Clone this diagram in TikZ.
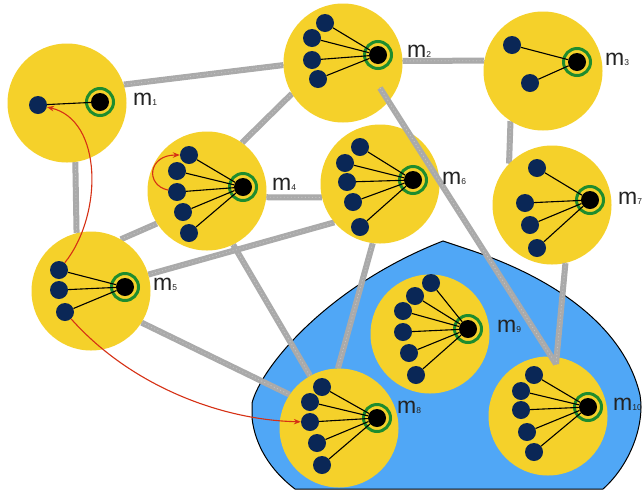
\documentclass[tikz,border=0pt]{standalone}
\usepackage{fontspec}
\setmainfont{Liberation Sans}
\usetikzlibrary{arrows.meta, decorations.pathmorphing}

\definecolor{cyel}{RGB}{245,209,42}
\definecolor{cblue}{RGB}{80,167,246}
\definecolor{cnavy}{RGB}{10,39,86}
\definecolor{cgreen}{RGB}{30,140,46}
\definecolor{cgray}{RGB}{170,170,170}
\definecolor{cgraylt}{RGB}{196,196,196}
\definecolor{cred}{RGB}{214,48,20}
\definecolor{ctext}{RGB}{35,35,35}

\pgfdeclarelayer{base}
\pgfdeclarelayer{links}
\pgfsetlayers{base,links,main}

\tikzset{
  cell/.style={circle, fill=cyel, minimum size=119pt, inner sep=0pt},
  hub/.style={circle, fill=black, minimum size=18pt, inner sep=0pt},
  ring/.style={circle, draw=cgreen, line width=3pt, minimum size=27pt, inner sep=0pt},
  leaf/.style={circle, fill=cnavy, minimum size=18pt, inner sep=0pt},
  spoke/.style={black, line width=1.1pt},
  % chalk-like stroke: a solid core with ragged edges and light specks
  link/.style={cgray, line width=6pt,
    postaction={draw, cgray, line width=1.6pt, line join=round, line cap=round, decorate,
      decoration={random steps, segment length=1.2pt, amplitude=1.7pt}},
    postaction={draw, cgraylt, line width=0.8pt, dash pattern=on 1pt off 2.5pt}},
  hop/.style={cred, line width=1.1pt, -{Stealth[length=7pt,width=5.5pt]}},
  lbl/.style={anchor=base west, inner sep=0pt, text=ctext, font=\fontsize{23}{24}\selectfont},
  region/.style={fill=cblue, draw=black, line width=1pt},
}

% module label: m with a small index on the baseline
\newcommand{\mlab}[1]{m{\fontsize{8.5}{9}\selectfont #1}}

% one module: #1 id, #2/#3 cell centre, #4/#5 hub centre, #6 leaf list x/y
\newcommand{\cluster}[6]{%
  \node[cell] (m#1) at (#2,#3) {};
  \node[ring] (r#1) at (#4,#5) {};
  \node[hub]  (h#1) at (#4,#5) {};
  \foreach \lx/\ly [count=\i] in {#6} {
    \node[leaf] (l#1-\i) at (\lx,\ly) {};
    \draw[spoke] (h#1) -- (l#1-\i);
  }
}

\begin{document}
\begin{tikzpicture}[x=1pt, y=-1pt]
\useasboundingbox (0,0) rectangle (642,491);
\pgfmathsetseed{7}

% modules
\cluster{1}{67}{103}{100}{102}{38/105}
\cluster{2}{343}{63}{378}{55}{325/23, 312/38, 312/60, 318/79}
\cluster{3}{543}{71}{577}{62}{512/45, 530/83}
\cluster{4}{207}{191}{243}{187}{189/155, 177/171, 177/192, 183/212, 189/233}
\cluster{5}{91}{291}{125}{287}{59/270, 59/290, 65/312}
\cluster{6}{380}{184}{413}{180}{360/147, 345/163, 347/182, 353/202, 360/227}
\cluster{7}{552}{205}{590}{200}{537/168, 525/203, 530/225, 537/248}
\cluster{8}{339}{428}{377}{418}{322/387, 310/402, 310/422, 317/443, 322/465}
\cluster{9}{430}{334}{468}{329}{431/283, 415/296, 403/311, 403/332, 409/353, 416/375}
\cluster{10}{548}{416}{588}{407}{534/375, 521/391, 521/410, 527/432, 534/452}

% shaded region holding m8, m9, m10
\begin{pgfonlayer}{base}
\fill[white] (0,0) rectangle (642,491);
\draw[region] (252,403) .. controls (262,365) and (330,285) .. (443,241)
  -- (470,250) .. controls (560,280) and (625,330) .. (640,395)
  .. controls (645,425) and (630,465) .. (603,489)
  -- (295,489) .. controls (270,470) and (255,445) .. (252,418) -- cycle;
\end{pgfonlayer}

% links running behind the cells
\begin{pgfonlayer}{links}
\draw[link] (m1.18)  -- (m2.182);
\draw[link] (m1.-82) -- (m5.104);
\draw[link] (m4.54)  -- (m2.211);
\draw[link] (m2.2)   -- (m3.170);
\draw[link] (m3.-123) -- (m7.136);
\draw[link] (m4.-6)  -- (m6.193);
\draw[link] (m5.60)  -- (m4.213);
\draw[link] (m4.-64) -- (m8.119);
\draw[link] (m5.16)  -- (m6.220);
\draw[link] (m5.-32) -- (m8.146);
\draw[link] (m6.-97) -- (m8.91);
\end{pgfonlayer}

% links drawn over the cells
\coordinate (e2)  at (380,88);
\coordinate (e10) at (556,364);
\draw[link] (e2) -- (e10);
\draw[link] (m7.-77) -- (e10);

% moves between leaves
\draw[hop] (l5-1) .. controls (103,215) and (103,120) .. (l1-1);
\draw[hop] (l4-3) .. controls (145,185) and (148,155) .. (l4-1);
\draw[hop] (l5-3) .. controls (130,385) and (220,420) .. (l8-3);

% labels
\node[lbl] (t1)  at (133,105) {\mlab{1}};
\node[lbl] (t2)  at (407,57)  {\mlab{2}};
\node[lbl] (t3)  at (605,65)  {\mlab{3}};
\node[lbl] (t4)  at (272,190) {\mlab{4}};
\node[lbl] (t5)  at (153,290) {\mlab{5}};
\node[lbl] (t6)  at (442,184) {\mlab{6}};
\node[lbl] (t7)  at (618,204) {\mlab{7}};
\node[lbl] (t8)  at (397,413) {\mlab{8}};
\node[lbl] (t9)  at (497,332) {\mlab{9}};
\node[lbl] (t10) at (613,410) {\mlab{10}};
\end{tikzpicture}
\end{document}
